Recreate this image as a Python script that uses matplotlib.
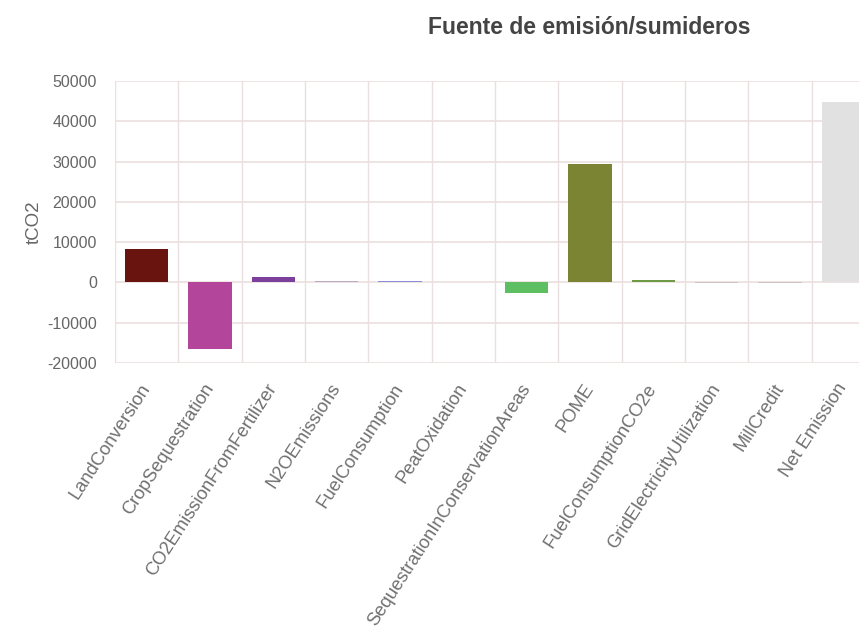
import matplotlib
matplotlib.use("Agg")
import matplotlib.pyplot as plt
import numpy as np

categories = ["LandConversion", "CropSequestration", "CO2EmissionFromFertilizer",
              "N2OEmissions", "FuelConsumption", "PeatOxidation",
              "SequestrationInConservationAreas", "POME", "FuelConsumptionCO2e",
              "GridElectricityUtilization", "MillCredit", "Net Emission"]
values = [8200, -16600, 1300, 300, 450, 50, -2500, 29500, 600, -80, -80, 44900]
colors = ["#6a1410", "#b3469b", "#7d3f9c", "#bba9c4", "#8d8fd6", "#d9c7c7",
          "#5dbf62", "#7a8432", "#6f9a45", "#cfc3c3", "#cfc3c3", "#e2e1e1"]
yticks = [-20000, -10000, 0, 10000, 20000, 30000, 40000, 50000]

plt.rcParams['font.family'] = ['Liberation Sans', 'DejaVu Sans']

fig = plt.figure(figsize=(8.59, 6.42), dpi=100)
W, H = 859, 642
left, right, top, bottom = 115, 875, 81, 363
ax = fig.add_axes([left / W, 1 - bottom / H, (right - left) / W, (bottom - top) / H])

x = np.arange(len(categories))
ax.bar(x, values, width=0.68, color=colors, zorder=3)

ax.set_xlim(-0.5, len(categories) - 0.5)
ax.set_ylim(-20000, 50000)
ax.set_yticks(yticks)
ax.set_yticklabels([str(v) for v in yticks], color="#666666", fontsize=11.5)
ax.set_xticks(x)
ax.set_xticklabels(categories, rotation=57, ha="right", va="center",
                   rotation_mode="anchor", color="#707070", fontsize=13.2)
ax.tick_params(axis="x", length=0, pad=16)
ax.tick_params(axis="y", length=0, pad=13)

ax.set_xticks(np.arange(len(categories) + 1) - 0.5, minor=True)
ax.tick_params(axis="x", which="minor", length=0)
ax.grid(True, axis="y", which="major", color="#ecdfdf", linewidth=1.2, zorder=0)
ax.grid(True, axis="x", which="minor", color="#ecdfdf", linewidth=1.0, zorder=0)
ax.grid(False, axis="x", which="major")
for s in ax.spines.values():
    s.set_visible(False)

ax.set_ylabel("tCO2", color="#666666", fontsize=13.5, labelpad=3)

fig.text(589 / W, 1 - 27 / H, "Fuente de emisión/sumideros", ha="center", va="center",
         fontsize=16.5, fontweight="bold", color="#444444")

fig.savefig("out.png", dpi=100)
